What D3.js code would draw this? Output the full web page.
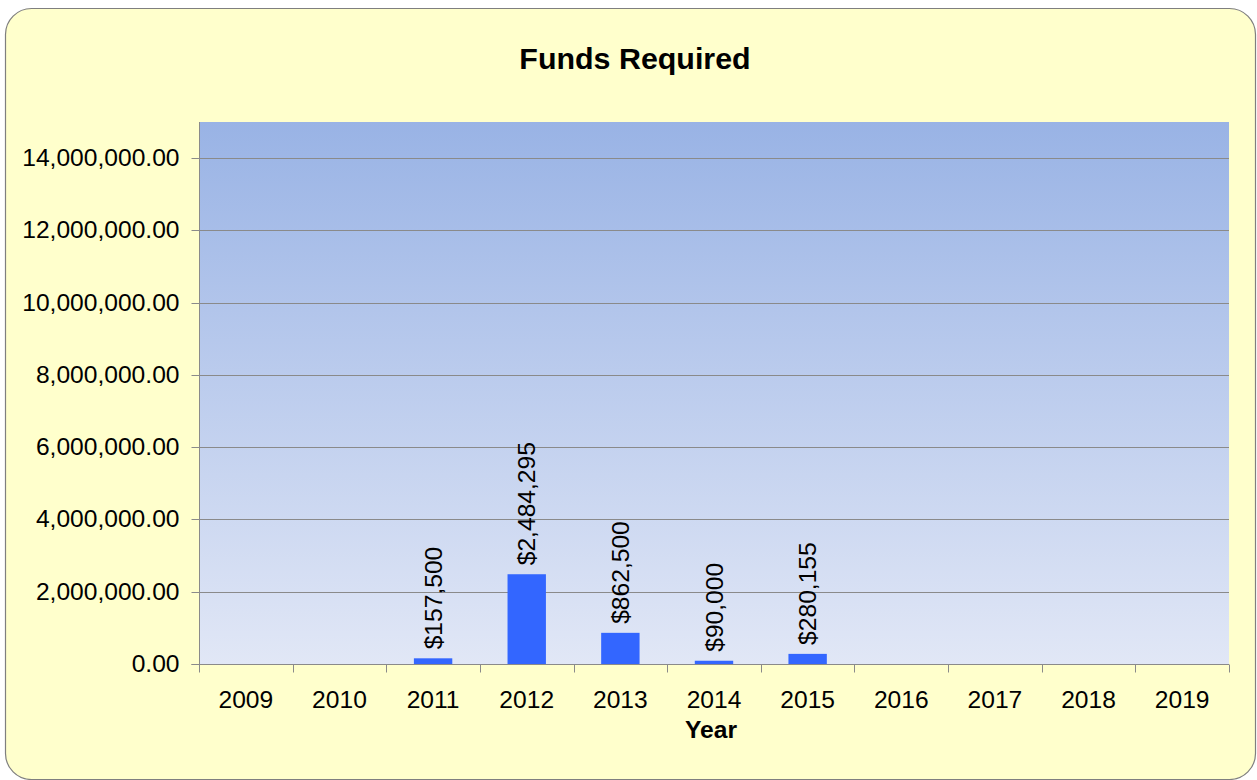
<!DOCTYPE html>
<html>
<head>
<meta charset="utf-8">
<script src="https://cdn.jsdelivr.net/npm/d3@7"></script>
<style>
  html, body { margin: 0; padding: 0; background: #ffffff; }
  svg { display: block; }
  text { font-family: "Liberation Sans", Arial, sans-serif; fill: #000; }
</style>
</head>
<body>
<svg id="chart" width="1257" height="780"></svg>
<script>
const years = ["2009","2010","2011","2012","2013","2014","2015","2016","2017","2018","2019"];
const funds = [0, 0, 157500, 2484295, 862500, 90000, 280155, 0, 0, 0, 0];
const yTicks = [0, 2000000, 4000000, 6000000, 8000000, 10000000, 12000000, 14000000];
const yMax = 15000000;
const titleText = "Funds Required";
const xTitle = "Year";

const svg = d3.select("#chart");
const plot = { left: 199, right: 1229, top: 122, bottom: 664 };
const FS = "24.6px";

// frame
svg.append("rect")
  .attr("x", 5.5).attr("y", 8.5)
  .attr("width", 1250).attr("height", 771)
  .attr("rx", 26).attr("ry", 26)
  .attr("fill", "#FFFFCC")
  .attr("stroke", "#7f7f7f").attr("stroke-width", 1.2);

// gradient
const defs = svg.append("defs");
const grad = defs.append("linearGradient").attr("id", "pg")
  .attr("x1", 0).attr("y1", 0).attr("x2", 0).attr("y2", 1);
grad.append("stop").attr("offset", "0%").attr("stop-color", "#99B3E5");
grad.append("stop").attr("offset", "100%").attr("stop-color", "#E1E7F6");

const x = d3.scaleBand().domain(years)
  .range([plot.left, plot.right])
  .paddingInner(0.59).paddingOuter(0.295);
const y = d3.scaleLinear().domain([0, yMax]).range([plot.bottom, plot.top]);

svg.append("rect")
  .attr("x", plot.left).attr("y", plot.top)
  .attr("width", plot.right - plot.left).attr("height", plot.bottom - plot.top)
  .attr("fill", "url(#pg)");

// gridlines
svg.append("g").selectAll("line").data(yTicks.filter(d => d > 0)).join("line")
  .attr("x1", plot.left).attr("x2", plot.right)
  .attr("y1", d => Math.round(y(d)) + 0.5).attr("y2", d => Math.round(y(d)) + 0.5)
  .attr("stroke", "#8a8a8a").attr("stroke-width", 1);

const rows = years.map((yr, i) => ({ yr, v: funds[i] })).filter(d => d.v > 0);

// bars
svg.append("g").selectAll("rect").data(rows).join("rect")
  .attr("x", d => x(d.yr)).attr("width", x.bandwidth())
  .attr("y", d => y(d.v)).attr("height", d => y(0) - y(d.v))
  .attr("fill", "#3366FF");

// data labels
const fmtD = d3.format(",");
svg.append("g").selectAll("text").data(rows).join("text")
  .attr("transform", d => `translate(${x(d.yr) + x.bandwidth() / 2},${y(d.v) - 9}) rotate(-90)`)
  .attr("dy", "0.35em")
  .attr("text-anchor", "start")
  .style("font-size", FS)
  .text(d => "$" + fmtD(d.v));

// y axis
const fmtY = d3.format(",.2f");
const yAxis = d3.axisLeft(y).tickValues(yTicks).tickFormat(fmtY).tickSize(8).tickPadding(12);
const gy = svg.append("g").attr("transform", `translate(${plot.left + 0.5},0)`).call(yAxis);
gy.select(".domain").attr("stroke", "#8a8a8a").attr("d", `M-8,${plot.bottom + 0.5}H0V${plot.top}`);
gy.selectAll(".tick line").attr("stroke", "#8a8a8a");
gy.selectAll(".tick text").style("font-size", FS).style("font-family", "Liberation Sans, Arial, sans-serif").attr("fill", "#000");
gy.selectAll(".tick").attr("transform", d => `translate(0,${Math.round(y(d)) + 0.5})`);

// x axis
const xAxis = d3.axisBottom(x).tickSize(0).tickPadding(26);
const gx = svg.append("g").attr("transform", `translate(0,${plot.bottom + 0.5})`).call(xAxis);
gx.select(".domain").attr("stroke", "#8a8a8a").attr("d", `M${plot.left},0H${plot.right}`);
gx.selectAll(".tick text").style("font-size", FS).style("font-family", "Liberation Sans, Arial, sans-serif").attr("fill", "#000");
const step = x.step();
const bounds = d3.range(years.length + 1).map(i => plot.left + i * step);
gx.append("g").selectAll("line").data(bounds).join("line")
  .attr("x1", d => Math.round(d) + 0.5).attr("x2", d => Math.round(d) + 0.5)
  .attr("y1", 0).attr("y2", 8)
  .attr("stroke", "#8a8a8a");

// titles
svg.append("text").attr("x", 635).attr("y", 69)
  .attr("text-anchor", "middle")
  .style("font-size", "30.4px").style("font-weight", "bold")
  .text(titleText);

svg.append("text").attr("x", 711).attr("y", 738)
  .attr("text-anchor", "middle")
  .style("font-size", FS).style("font-weight", "bold")
  .text(xTitle);
</script>
</body>
</html>
